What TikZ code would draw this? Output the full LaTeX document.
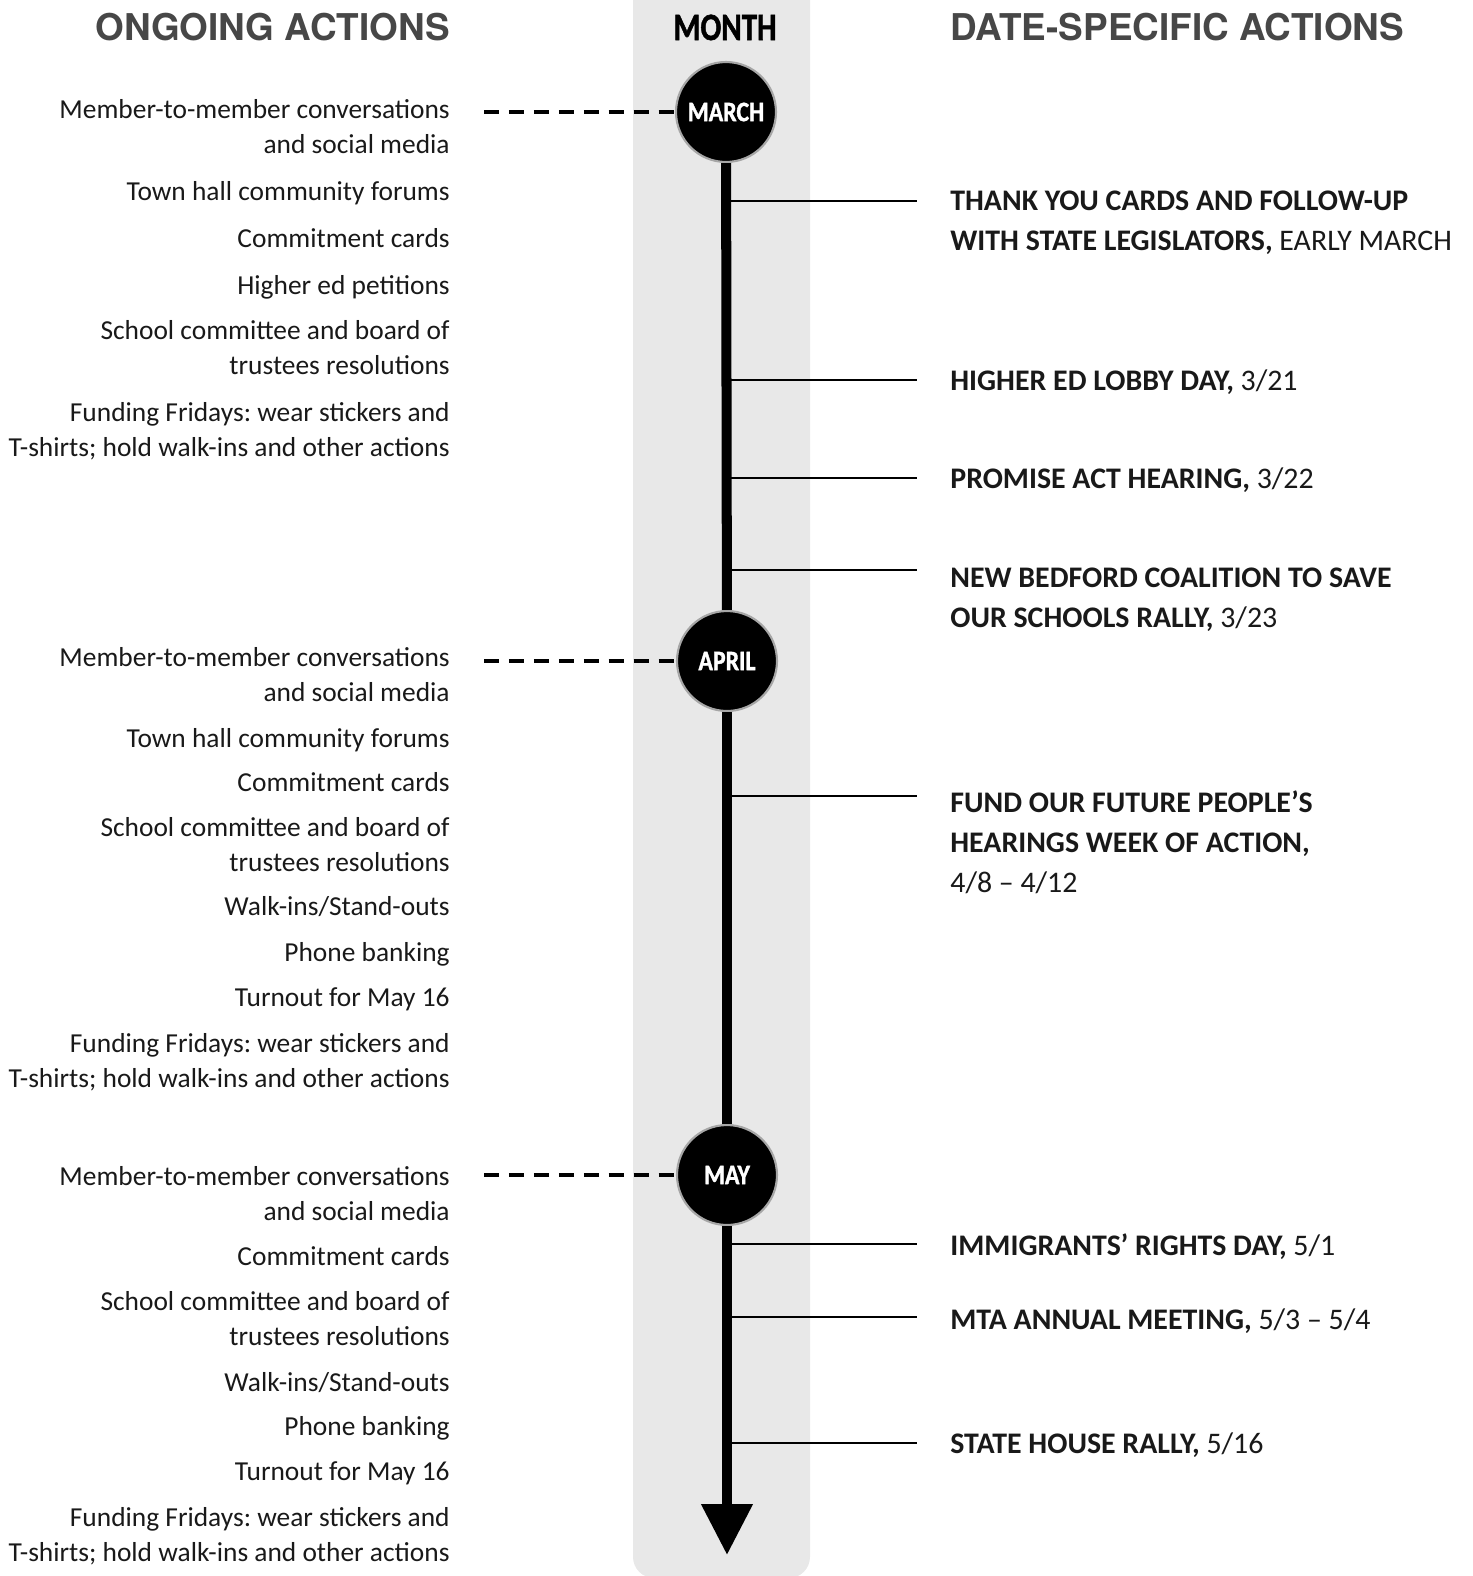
\documentclass[tikz,border=0pt]{standalone}
\usepackage{fontspec}
\usepackage{graphicx}
\setmainfont{Carlito}
\newfontfamily\headfont{TeX Gyre Heros}
\newfontfamily\heavyfont{Carlito}[BoldFeatures={FakeBold=1.5}]
\usetikzlibrary{arrows.meta,calc}
\frenchspacing

\newcommand{\monthname}[1]{\scalebox{0.85}[1]{#1}}

\begin{document}
\begin{tikzpicture}[x=0.02cm,y=-0.02cm,>={Triangle[width=28pt,length=29pt]}]

    \tikzstyle{head}=[font=\headfont\bfseries\fontsize{21}{24}\selectfont,text=black!72,inner sep=0]
    \tikzstyle{ongoing}=[font=\fontsize{15.6}{19.9}\selectfont,align=right,anchor=base east,inner sep=0,text=black!90]
    \tikzstyle{event}=[font=\bfseries\fontsize{17}{22.5}\selectfont,align=left,anchor=base west,inner sep=0,text=black!90]
    \tikzstyle{month}=[circle,fill=black,draw=black!35,line width=1.2pt,minimum size=2cm,inner sep=0,
                       text=white,font=\heavyfont\bfseries\fontsize{16}{18}\selectfont]
    \tikzstyle{axis}=[line width=5.7pt]
    \tikzstyle{dashline}=[line width=2.2pt,dash pattern=on 8.5pt off 5.7pt]
    \tikzstyle{tick}=[line width=1.1pt]

    \useasboundingbox (0,0) rectangle (1473,1576);

    % grey month band
    \fill[black!9] (633,-5) [rounded corners=12pt] -- (633,1578) -- (810,1578) [sharp corners] -- (810,-5) -- cycle;

    % headings
    \node[head,anchor=base east] (hongoing) at (450,40) {ONGOING ACTIONS};
    \node[anchor=base,inner sep=0,font=\heavyfont\bfseries\fontsize{22}{24}\selectfont] (hmonth) at (725,40) {\scalebox{0.8}[1]{MONTH}};
    \node[head,anchor=base west] (hdate) at (950,40) {DATE-SPECIFIC ACTIONS};

    % months
    \node[month] (march) at (726,112) {\monthname{MARCH}};
    \node[month] (april) at (727,661) {\monthname{APRIL}};
    \node[month] (may)   at (727,1175) {\monthname{MAY}};
    \coordinate (tip) at (727,1555);

    % ongoing actions, march (base = last line)
    \node[ongoing] (mar1) at (450,153) {Member-to-member conversations\\and social media};
    \node[ongoing] (mar2) at (450,200) {Town hall community forums};
    \node[ongoing] (mar3) at (450,247) {Commitment cards};
    \node[ongoing] (mar4) at (450,294) {Higher ed petitions};
    \node[ongoing] (mar5) at (450,374) {School committee and board of\\trustees resolutions};
    \node[ongoing] (mar6) at (450,456) {Funding Fridays: wear stickers and\\T-shirts; hold walk-ins and other actions};

    % ongoing actions, april
    \node[ongoing] (apr1) at (450,701) {Member-to-member conversations\\and social media};
    \node[ongoing] (apr2) at (450,747) {Town hall community forums};
    \node[ongoing] (apr3) at (450,791) {Commitment cards};
    \node[ongoing] (apr4) at (450,871) {School committee and board of\\trustees resolutions};
    \node[ongoing] (apr5) at (450,915) {Walk-ins/Stand-outs};
    \node[ongoing] (apr6) at (450,961) {Phone banking};
    \node[ongoing] (apr7) at (450,1006) {Turnout for May 16};
    \node[ongoing] (apr8) at (450,1087) {Funding Fridays: wear stickers and\\T-shirts; hold walk-ins and other actions};

    % ongoing actions, may
    \node[ongoing] (may1) at (450,1220) {Member-to-member conversations\\and social media};
    \node[ongoing] (may2) at (450,1265) {Commitment cards};
    \node[ongoing] (may3) at (450,1345) {School committee and board of\\trustees resolutions};
    \node[ongoing] (may4) at (450,1391) {Walk-ins/Stand-outs};
    \node[ongoing] (may5) at (450,1435) {Phone banking};
    \node[ongoing] (may6) at (450,1480) {Turnout for May 16};
    \node[ongoing] (may7) at (450,1561) {Funding Fridays: wear stickers and\\T-shirts; hold walk-ins and other actions};

    % dashed links to the months
    \coordinate (dmar) at (484,112);
    \coordinate (dapr) at (484,661);
    \coordinate (dmay) at (484,1175);
    \draw[dashline] (dmar) -- (march);
    \draw[dashline] (dapr) -- (april);
    \draw[dashline] (dmay) -- (may);

    % date-specific actions
    \coordinate (t1) at (917,201);
    \coordinate (t2) at (917,380);
    \coordinate (t3) at (917,478);
    \coordinate (t4) at (917,570);
    \coordinate (t5) at (917,796);
    \coordinate (t6) at (917,1244);
    \coordinate (t7) at (917,1317);
    \coordinate (t8) at (917,1443);

    \node[event] (ev1) at (950,250) {THANK YOU CARDS AND FOLLOW-UP\\WITH STATE LEGISLATORS, {\mdseries EARLY MARCH}};
    \node[event] (ev2) at (950,390) {HIGHER ED LOBBY DAY, {\mdseries 3/21}};
    \node[event] (ev3) at (950,488) {PROMISE ACT HEARING, {\mdseries 3/22}};
    \node[event] (ev4) at (950,627) {NEW BEDFORD COALITION TO SAVE\\OUR SCHOOLS RALLY, {\mdseries 3/23}};
    \node[event] (ev5) at (950,892) {FUND OUR FUTURE PEOPLE’S\\HEARINGS WEEK OF ACTION,\\{\mdseries 4/8 – 4/12}};
    \node[event] (ev6) at (950,1255) {IMMIGRANTS’ RIGHTS DAY, {\mdseries 5/1}};
    \node[event] (ev7) at (950,1329) {MTA ANNUAL MEETING, {\mdseries 5/3 – 5/4}};
    \node[event] (ev8) at (950,1453) {STATE HOUSE RALLY, {\mdseries 5/16}};

    \foreach \t in {t1,t2,t3,t4}
        \draw[tick] (\t -| march) -- (\t);
    \foreach \t in {t5}
        \draw[tick] (\t -| april) -- (\t);
    \foreach \t in {t6,t7,t8}
        \draw[tick] (\t -| may) -- (\t);

    % time axis
    \draw[axis] (march) -- (april);
    \draw[axis] (april) -- (may);
    \draw[axis,->] (may) -- (tip);

\end{tikzpicture}
\end{document}
